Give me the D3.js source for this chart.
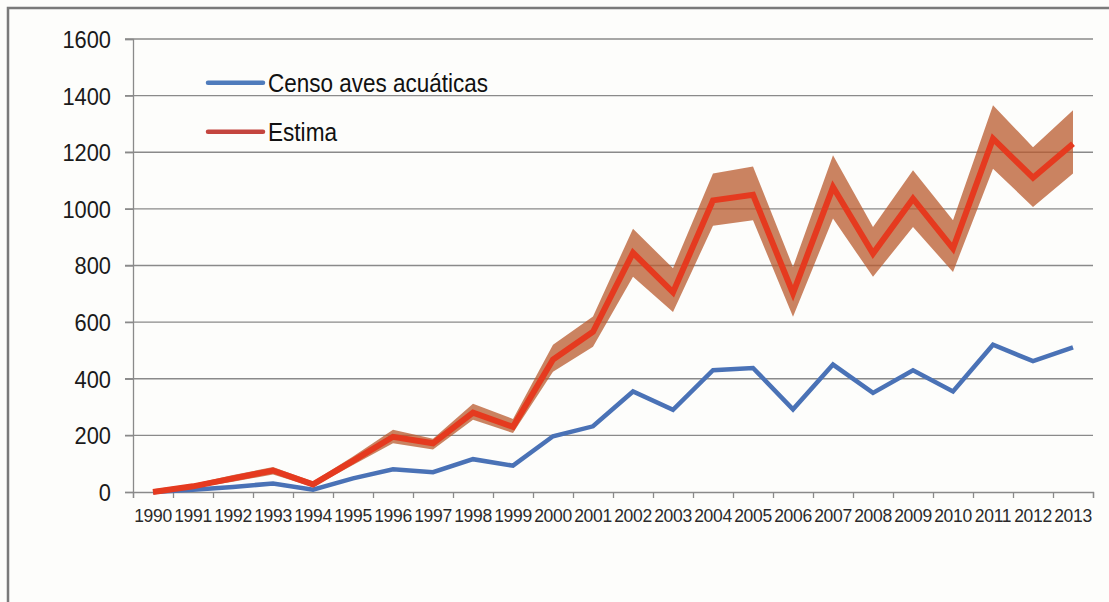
<!DOCTYPE html>
<html>
<head>
<meta charset="utf-8">
<script src="https://cdn.jsdelivr.net/npm/d3@7/dist/d3.min.js"></script>
<style>
  html, body { margin: 0; padding: 0; background: #fdfdfb; }
  svg { display: block; font-family: "Liberation Sans", Arial, sans-serif; }
</style>
</head>
<body>
<svg id="chart" width="1109" height="602"></svg>
<script>
const years = ["1990","1991","1992","1993","1994","1995","1996","1997","1998","1999","2000","2001",
               "2002","2003","2004","2005","2006","2007","2008","2009","2010","2011","2012","2013"];

// Censo aves acuáticas
const censo = [0, 8, 18, 30, 8, 48, 80, 70, 116, 93, 197, 232,
               355, 290, 430, 438, 292, 450, 350, 430, 355, 520, 462, 511];

// Estima + its band
const estima = [0, 20, 48, 76, 27, 110, 195, 172, 280, 230, 468, 566,
                845, 705, 1030, 1050, 702, 1077, 842, 1036, 860, 1248, 1110, 1230];
const upper = [10, 28, 60, 88, 37, 125, 220, 188, 312, 258, 520, 620,
               930, 790, 1125, 1150, 795, 1189, 936, 1136, 960, 1366, 1218, 1348];
const lower = [0, 14, 36, 62, 18, 95, 172, 150, 255, 208, 425, 513,
               760, 636, 940, 960, 619, 966, 760, 936, 777, 1142, 1007, 1125];

const yTicks = [0, 200, 400, 600, 800, 1000, 1200, 1400, 1600];

const seriesNames = ["Censo aves acuáticas", "Estima"];

const svg = d3.select("#chart");
const plotLeft = 133, plotRight = 1093, plotTop = 39, plotBottom = 492;

// frame of the scanned figure
svg.append("path")
  .attr("d", "M8,602 L8,8 L1109,8")
  .attr("fill", "none")
  .attr("stroke", "#7a7a7a")
  .attr("stroke-width", 2.5);

const x = d3.scaleBand().domain(years).range([plotLeft, plotRight]);
const xb = d3.scaleLinear().domain([0, years.length]).range([plotLeft, plotRight]);
const y = d3.scaleLinear().domain([0, 1600]).range([plotBottom, plotTop]);
const xc = d => x(d) + x.bandwidth() / 2;

// gridlines
svg.append("g")
  .selectAll("line")
  .data(yTicks.slice(1))
  .join("line")
  .attr("x1", plotLeft - 8)
  .attr("x2", plotRight)
  .attr("y1", d => y(d))
  .attr("y2", d => y(d))
  .attr("stroke", "#8a8a8a")
  .attr("stroke-width", 1.3);

// y axis
const yAxis = svg.append("g")
  .attr("transform", "translate(" + plotLeft + ",0)")
  .call(d3.axisLeft(y).tickValues(yTicks).tickFormat(d3.format("d")).tickSize(8).tickPadding(0));
yAxis.select(".domain").attr("stroke", "#8a8a8a").attr("stroke-width", 1.3);
yAxis.selectAll(".tick line").attr("stroke", "#8a8a8a").attr("stroke-width", 1.3);
yAxis.selectAll(".tick text")
  .attr("x", -22 / 0.93)
  .attr("dy", "0.36em")
  .attr("transform", "scale(0.93,1)")
  .attr("font-size", 23.5)
  .attr("fill", "#1a1a1a");

// x axis: boundary ticks
const xTickAxis = svg.append("g")
  .attr("transform", "translate(0," + plotBottom + ")")
  .call(d3.axisBottom(xb).tickValues(d3.range(years.length + 1)).tickSize(6).tickFormat(""));
xTickAxis.select(".domain").attr("stroke", "#8a8a8a").attr("stroke-width", 1.3);
xTickAxis.selectAll(".tick line").attr("stroke", "#8a8a8a").attr("stroke-width", 1.3);

// x axis: labels at band centers
const xLabelAxis = svg.append("g")
  .attr("transform", "translate(0," + plotBottom + ")")
  .call(d3.axisBottom(x).tickSize(0).tickPadding(18));
xLabelAxis.select(".domain").remove();
xLabelAxis.selectAll(".tick text")
  .attr("font-size", 17.5)
  .attr("letter-spacing", -0.3)
  .attr("fill", "#2a2a2a");

// Estima band
const area = d3.area()
  .x((d, i) => xc(years[i]))
  .y0((d, i) => y(lower[i]))
  .y1((d, i) => y(upper[i]));

svg.append("path")
  .datum(estima)
  .attr("d", area)
  .attr("fill", "#b85a2e")
  .attr("fill-opacity", 0.75);

const line = d3.line()
  .x((d, i) => xc(years[i]))
  .y(d => y(d));

svg.append("path")
  .datum(censo)
  .attr("d", line)
  .attr("fill", "none")
  .attr("stroke", "#4a72b6")
  .attr("stroke-width", 4.5)
  .attr("stroke-linejoin", "miter");

svg.append("path")
  .datum(estima)
  .attr("d", line)
  .attr("fill", "none")
  .attr("stroke", "#e53a1f")
  .attr("stroke-width", 6)
  .attr("stroke-linejoin", "miter");

// legend
const legendColors = ["#4f7cbc", "#c4453f"];
const legendLens = [220, 69];
const legend = svg.append("g")
  .selectAll("g")
  .data(seriesNames)
  .join("g")
  .attr("transform", (d, i) => "translate(208," + (82.7 + i * 49) + ")");

legend.append("line")
  .attr("x1", 0)
  .attr("x2", 55)
  .attr("stroke", (d, i) => legendColors[i])
  .attr("stroke-width", 4.5)
  .attr("stroke-linecap", "round");

legend.append("text")
  .attr("x", 60)
  .attr("y", 9)
  .attr("font-size", 25)
  .attr("fill", "#111")
  .attr("textLength", (d, i) => legendLens[i])
  .attr("lengthAdjust", "spacingAndGlyphs")
  .text(d => d);
</script>
</body>
</html>
